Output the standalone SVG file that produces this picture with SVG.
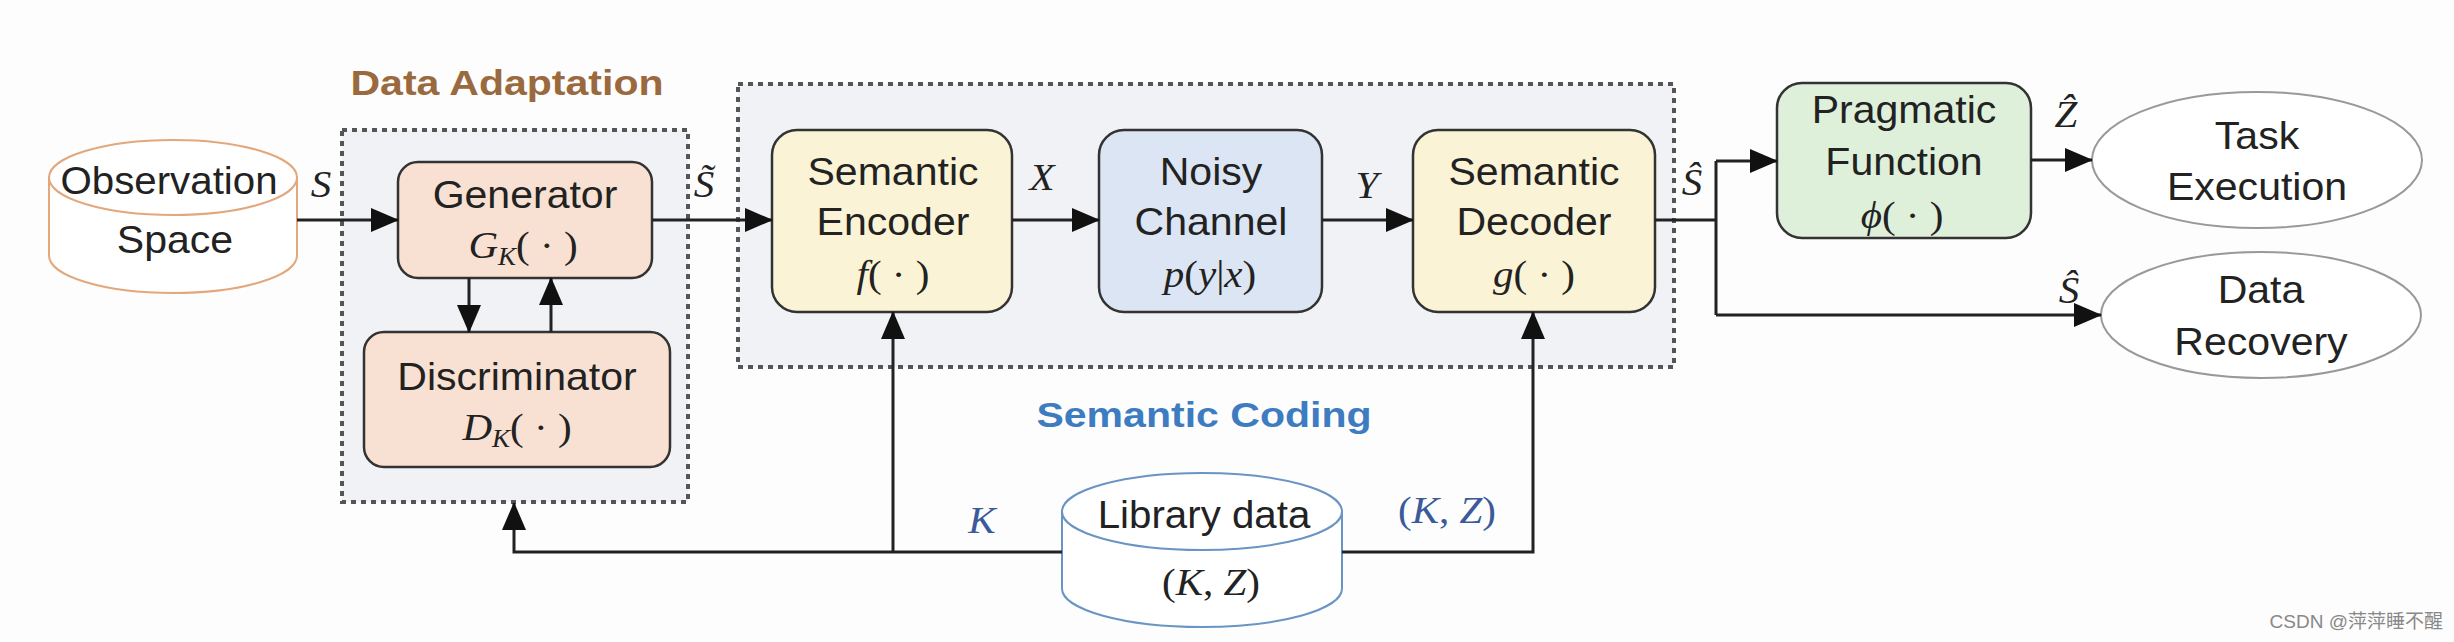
<svg xmlns="http://www.w3.org/2000/svg" width="2454" height="642" viewBox="0 0 2454 642">
<style>
.lbl{font-family:"Liberation Sans",Arial,sans-serif;font-size:38px;fill:#222;text-anchor:middle}
.ttl{font-family:"Liberation Sans",Arial,sans-serif;font-size:36px;font-weight:bold;text-anchor:middle}
.math{font-family:"Liberation Serif","DejaVu Serif",serif;font-style:italic;font-size:38px;fill:#222;text-anchor:middle}
.up{font-style:normal}
.blue{fill:#3B5A9A}
.grp{fill:#F1F2F5;stroke:#555;stroke-width:4;stroke-dasharray:5 5}
.box{stroke:#333;stroke-width:2.5}
.peach{fill:#F8E1D2}
.yel{fill:#FBF3D6}
.bluebox{fill:#DCE5F3}
.green{fill:#DFF0DA}
.conn{fill:none;stroke:#222;stroke-width:3}
.ell{fill:#fff;stroke:#999;stroke-width:2}
.wm{font-family:"Liberation Sans","Noto Sans CJK SC",sans-serif;font-size:19px;fill:#888}
</style>
<defs>
<marker id="ah" markerUnits="userSpaceOnUse" markerWidth="28" markerHeight="24" refX="27" refY="12" orient="auto">
<path d="M0,0 L28,12 L0,24 z" fill="#111"/>
</marker>
</defs>
<rect width="2454" height="642" fill="#FDFDFD"/>

<g id="data-adaptation">
<rect class="grp" x="342" y="130" width="346" height="372"/>
<text class="ttl" fill="#9A6A3E" transform="translate(507,95) scale(1.14,1)">Data Adaptation</text>
</g>
<g id="semantic-coding">
<rect class="grp" x="738" y="84" width="936" height="283"/>
<text class="ttl" fill="#3D7CC0" transform="translate(1204,427) scale(1.14,1)">Semantic Coding</text>
</g>

<g id="observation-space">
<path d="M49,177.5 L49,255.5 A124,37.5 0 0 0 297,255.5 L297,177.5 z" fill="#fff" stroke="#E3A77C" stroke-width="2"/>
<ellipse cx="173" cy="177.5" rx="124" ry="37.5" fill="#fff" stroke="#E3A77C" stroke-width="2"/>
<text class="lbl" transform="translate(169,194) scale(1.06,1)">Observation</text>
<text class="lbl" transform="translate(175,253) scale(1.08,1)">Space</text>
</g>

<g id="generator">
<rect class="box peach" x="398" y="162" width="254" height="116" rx="20"/>
<text class="lbl" transform="translate(525,208) scale(1.08,1)">Generator</text>
<text class="math" transform="translate(523,258) scale(1.08,1)">G<tspan font-size="25" dy="7">K</tspan><tspan class="up" dy="-7">( · )</tspan></text>
</g>

<g id="discriminator">
<rect class="box peach" x="364" y="332" width="306" height="135" rx="20"/>
<text class="lbl" transform="translate(517,390) scale(1.08,1)">Discriminator</text>
<text class="math" transform="translate(517,440) scale(1.08,1)">D<tspan font-size="25" dy="7">K</tspan><tspan class="up" dy="-7">( · )</tspan></text>
</g>

<g id="semantic-encoder">
<rect class="box yel" x="772" y="130" width="240" height="182" rx="25"/>
<text class="lbl" transform="translate(893,185) scale(1.08,1)">Semantic</text>
<text class="lbl" transform="translate(893,235) scale(1.08,1)">Encoder</text>
<text class="math" transform="translate(893,287) scale(1.08,1)">f<tspan class="up">( · )</tspan></text>
</g>

<g id="noisy-channel">
<rect class="box bluebox" x="1099" y="130" width="223" height="182" rx="25"/>
<text class="lbl" transform="translate(1211,185) scale(1.08,1)">Noisy</text>
<text class="lbl" transform="translate(1211,235) scale(1.08,1)">Channel</text>
<text class="math" transform="translate(1210,287) scale(1.08,1)">p<tspan class="up">(</tspan>y<tspan class="up">|</tspan>x<tspan class="up">)</tspan></text>
</g>

<g id="semantic-decoder">
<rect class="box yel" x="1413" y="130" width="242" height="182" rx="25"/>
<text class="lbl" transform="translate(1534,185) scale(1.08,1)">Semantic</text>
<text class="lbl" transform="translate(1534,235) scale(1.08,1)">Decoder</text>
<text class="math" transform="translate(1534,287) scale(1.08,1)">g<tspan class="up">( · )</tspan></text>
</g>

<g id="pragmatic-function">
<rect class="box green" x="1777" y="83" width="254" height="155" rx="25"/>
<text class="lbl" transform="translate(1904,123) scale(1.08,1)">Pragmatic</text>
<text class="lbl" transform="translate(1904,175) scale(1.08,1)">Function</text>
<text class="math" transform="translate(1902,228) scale(1.08,1)">ϕ<tspan class="up">( · )</tspan></text>
</g>

<g id="task-execution">
<ellipse class="ell" cx="2257" cy="160" rx="165" ry="68"/>
<text class="lbl" transform="translate(2257,149) scale(1.08,1)">Task</text>
<text class="lbl" transform="translate(2257,200) scale(1.08,1)">Execution</text>
</g>

<g id="data-recovery">
<ellipse class="ell" cx="2261" cy="315" rx="160" ry="63"/>
<text class="lbl" transform="translate(2261,303) scale(1.08,1)">Data</text>
<text class="lbl" transform="translate(2261,355) scale(1.08,1)">Recovery</text>
</g>

<g id="library-data">
<path d="M1062,511.5 L1062,588.5 A140,38.5 0 0 0 1342,588.5 L1342,511.5 z" fill="#fff" stroke="#6A94C4" stroke-width="2"/>
<ellipse cx="1202" cy="511.5" rx="140" ry="38.5" fill="#fff" stroke="#6A94C4" stroke-width="2"/>
<text class="lbl" transform="translate(1204,528) scale(1.06,1)">Library data</text>
<text class="math" fill="#333" transform="translate(1211,595) scale(1.08,1)"><tspan class="up">(</tspan>K<tspan class="up">, </tspan>Z<tspan class="up">)</tspan></text>
</g>

<g id="connectors">
<line class="conn" x1="297" y1="220" x2="398" y2="220" marker-end="url(#ah)"/>
<line class="conn" x1="469" y1="278" x2="469" y2="332" marker-end="url(#ah)"/>
<line class="conn" x1="551" y1="332" x2="551" y2="278" marker-end="url(#ah)"/>
<line class="conn" x1="652" y1="220" x2="772" y2="220" marker-end="url(#ah)"/>
<line class="conn" x1="1012" y1="220" x2="1099" y2="220" marker-end="url(#ah)"/>
<line class="conn" x1="1322" y1="220" x2="1413" y2="220" marker-end="url(#ah)"/>
<polyline class="conn" points="1655,220 1716,220"/>
<polyline class="conn" points="1716,161 1716,315"/>
<line class="conn" x1="1716" y1="161" x2="1777" y2="161" marker-end="url(#ah)"/>
<line class="conn" x1="1716" y1="315" x2="2101" y2="315" marker-end="url(#ah)"/>
<line class="conn" x1="2031" y1="160" x2="2092" y2="160" marker-end="url(#ah)"/>
<polyline class="conn" points="1062,552 514,552 514,503" marker-end="url(#ah)"/>
<line class="conn" x1="893" y1="552" x2="893" y2="312" marker-end="url(#ah)"/>
<polyline class="conn" points="1342,552 1533,552 1533,312" stroke="#444" stroke-width="4" marker-end="url(#ah)"/>
<text class="math" transform="translate(321,197) scale(1.08,1)">S</text>
<text class="math" transform="translate(704,197) scale(1.08,1)">S̃</text>
<text class="math" transform="translate(1042,190) scale(1.08,1)">X</text>
<text class="math" transform="translate(1367,198) scale(1.08,1)">Y</text>
<text class="math" transform="translate(1692,195) scale(1.08,1)">Ŝ</text>
<text class="math" transform="translate(2066,127) scale(1.08,1)">Ẑ</text>
<text class="math" transform="translate(2069,303) scale(1.08,1)">Ŝ</text>
<text class="math blue" transform="translate(982,533) scale(1.08,1)">K</text>
<text class="math blue" transform="translate(1447,523) scale(1.08,1)"><tspan class="up">(</tspan>K<tspan class="up">, </tspan>Z<tspan class="up">)</tspan></text>
</g>
<text class="wm" x="2443" y="628" text-anchor="end">CSDN @萍萍睡不醒</text>
</svg>
